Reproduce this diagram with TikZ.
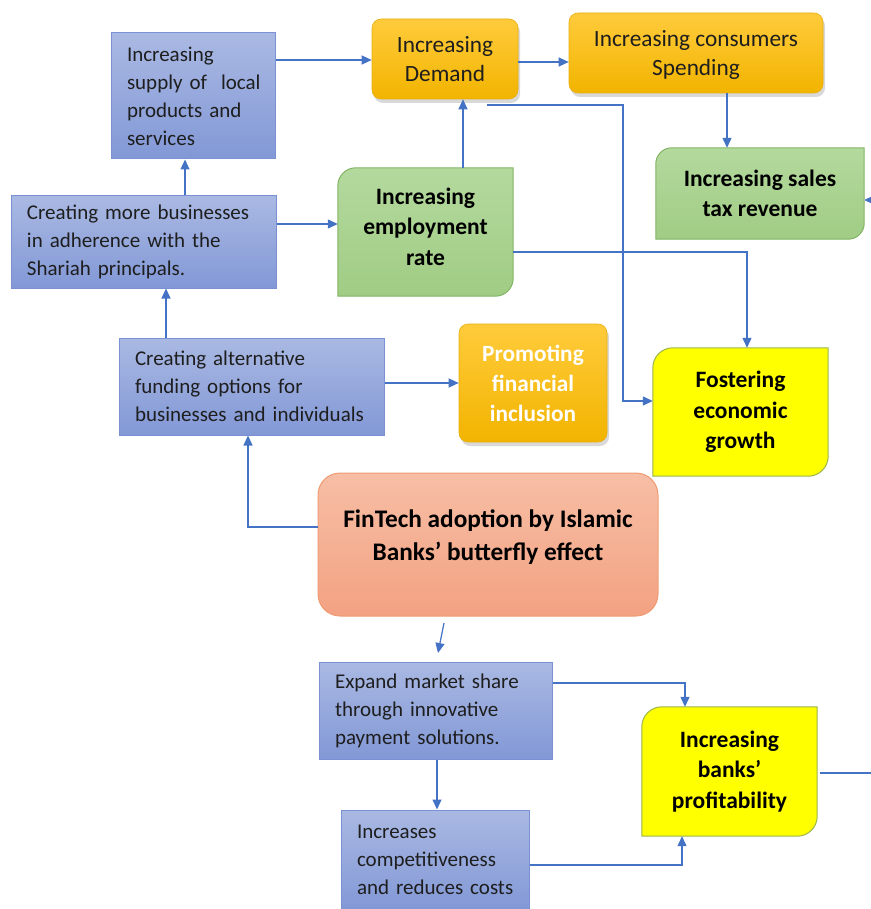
\documentclass[tikz,border=0pt]{standalone}
\usepackage{fontspec}
\setmainfont{Carlito}
\usetikzlibrary{arrows.meta,calc,backgrounds,shadows}
\definecolor{arrc}{HTML}{4472C4}
\definecolor{bluet}{HTML}{AAB9E3}
\definecolor{blueB}{HTML}{8298D6}
\definecolor{blueD}{HTML}{7A92D3}
\definecolor{orT}{HTML}{FFCB3C}
\definecolor{orB}{HTML}{F2B400}
\definecolor{orD}{HTML}{E8AE10}
\definecolor{grT}{HTML}{B4D99E}
\definecolor{grB}{HTML}{A0CC84}
\definecolor{grD}{HTML}{82B563}
\definecolor{yel}{HTML}{FFFF00}
\definecolor{yelD}{HTML}{9BB54C}
\definecolor{salT}{HTML}{F7BEA5}
\definecolor{salB}{HTML}{F3A282}
\definecolor{salD}{HTML}{EE9B72}
\definecolor{txt}{HTML}{1E1E1E}
\newcommand{\mydiag}[3]{%
  \path[#2] ($(#1.north west)+(0pt,-#3)$) arc[start angle=180,end angle=90,radius=#3]
    -- (#1.north east) -- ($(#1.south east)+(0pt,#3)$) arc[start angle=0,end angle=-90,radius=#3]
    -- (#1.south west) -- cycle;}
\newcommand{\lbox}[1]{\mbox{#1}}
\begin{document}
\begin{tikzpicture}[x=1pt,y=1pt,
  bluebox/.style={draw=blueD, line width=1pt, top color=bluet, bottom color=blueB,
    align=left, inner xsep=16pt, inner ysep=0pt, font=\fontsize{21}{28}\selectfont, text=txt},
  orangebox/.style={draw=orD, line width=0.6pt, top color=orT, bottom color=orB, rounded corners=9pt,
    drop shadow={shadow xshift=2pt, shadow yshift=-4pt, opacity=0.3},
    align=center, inner sep=0pt, font=\fontsize{23.3}{29.5}\selectfont, text=txt, text depth=0pt},
  boldtext/.style={align=center, inner sep=0pt, font=\bfseries\fontsize{23.5}{30.5}\selectfont, text=black},
  greenshape/.style={draw=grD, line width=1pt, top color=grT, bottom color=grB},
  yellowshape/.style={draw=yelD, line width=1pt, fill=yel},
  salbox/.style={draw=salD, line width=1pt, top color=salT, bottom color=salB, rounded corners=22pt,
    align=center, inner sep=0pt, font=\bfseries\fontsize{25.3}{33}\selectfont, text=black},
  arr/.style={draw=arrc, line width=1.2pt, -{Triangle[length=10pt,width=9pt]}},
  plainline/.style={draw=arrc, line width=1.2pt}
]
\useasboundingbox (0,0) rectangle (870,-909);

% blue boxes
\node[bluebox, text width=132pt, minimum height=126pt] (supply) at (193,-96)
  {\lbox{Increasing}\\\lbox{supply of\ \ local}\\\lbox{products and}\\\lbox{services}};
\node[bluebox, text width=233pt, minimum height=92pt] (cmore) at (143.5,-242)
  {\lbox{Creating more businesses}\\\lbox{in adherence with the}\\\lbox{Shariah principals.}};
\node[bluebox, text width=233pt, minimum height=97pt] (alt) at (251.5,-386.5)
  {\lbox{Creating alternative}\\\lbox{funding options for}\\\lbox{businesses and individuals}};
\node[bluebox, text width=201pt, minimum height=97pt] (expand) at (435.5,-710.5)
  {\lbox{Expand market share}\\\lbox{through innovative}\\\lbox{payment solutions.}};
\node[bluebox, text width=156pt, minimum height=100pt] (comp) at (435,-860)
  {\lbox{Increases}\\\lbox{competitiveness}\\\lbox{and reduces costs}};

% orange boxes
\node[orangebox, minimum width=146pt, minimum height=80pt] (demand) at (445,-59)
  {Increasing\\Demand};
\node[orangebox, minimum width=254pt, minimum height=80pt] (spending) at (696,-53)
  {Increasing consumers\\Spending};
\node[orangebox, minimum width=148pt, minimum height=118pt, text=white,
  font=\bfseries\fontsize{23.3}{30}\selectfont] (promo) at (533,-383)
  {Promoting\\financial\\inclusion};

% green / yellow shapes (text nodes, shapes drawn behind)
\node[boldtext, minimum width=175pt, minimum height=128pt, text depth=11pt] (emp) at (425.5,-232)
  {Increasing\\employment\\rate};
\node[boldtext, minimum width=208pt, minimum height=91pt] (sales) at (760,-193.5)
  {Increasing sales\\tax revenue};
\node[boldtext, minimum width=175pt, minimum height=128pt] (fost) at (740.5,-412)
  {Fostering\\economic\\growth};
\node[boldtext, minimum width=175pt, minimum height=129pt] (banks) at (729.5,-771.5)
  {Increasing\\banks’\\profitability};

% central box
\node[salbox, minimum width=340pt, minimum height=143pt, text depth=18pt] (fin) at (488,-544.5)
  {FinTech adoption by Islamic\\Banks’ butterfly effect};

\begin{scope}[on background layer]
  \mydiag{emp}{greenshape}{18pt}
  \mydiag{sales}{greenshape}{16pt}
  \mydiag{fost}{yellowshape}{20pt}
  \mydiag{banks}{yellowshape}{20pt}
\end{scope}

% free-end coordinates
\coordinate (dstart) at (487,-105);
\coordinate (dturn) at (623,-401);
\coordinate (fromright) at (890,-200);
\coordinate (toright) at (875,-773);
\coordinate (diagA) at (444,-623);
\coordinate (diagB) at (438,-653);

% connectors
\draw[arr] (supply.east |- 0,-60) -- (demand.west |- 0,-60);
\draw[arr] (demand.east |- 0,-62) -- (spending.west |- 0,-62);
\draw[arr] (spending.south -| 727,0) -- (sales.north -| 727,0);
\draw[arr] (emp.north -| 463,0) -- (demand.south -| 463,0);
\draw[arr] (cmore.north -| 185,0) -- (supply.south -| 185,0);
\draw[arr] (cmore.east |- 0,-224) -- (emp.west |- 0,-224);
\draw[arr] (alt.north -| 166,0) -- (cmore.south -| 166,0);
\draw[arr] (alt.east |- 0,-383) -- (promo.west |- 0,-383);
\draw[arr] (fin.west |- 0,-527) -| (alt.south -| 248,0);
\draw[arr] (dstart) -| (dturn) -- (fost.west |- dturn);
\draw[arr] (emp.east |- 0,-252) -| (fost.north -| 747,0);
\draw[arr] (diagA) -- (diagB);
\draw[arr] (expand.east |- 0,-683) -| (banks.north -| 685,0);
\draw[arr] (expand.south -| 437,0) -- (comp.north -| 437,0);
\draw[arr] (comp.east |- 0,-865) -| (banks.south -| 682,0);
\draw[plainline] ($(banks.east |- 0,-773)+(3,0)$) -- (toright);
\draw[arr] (fromright) -- (sales.east |- fromright);
\end{tikzpicture}
\end{document}
